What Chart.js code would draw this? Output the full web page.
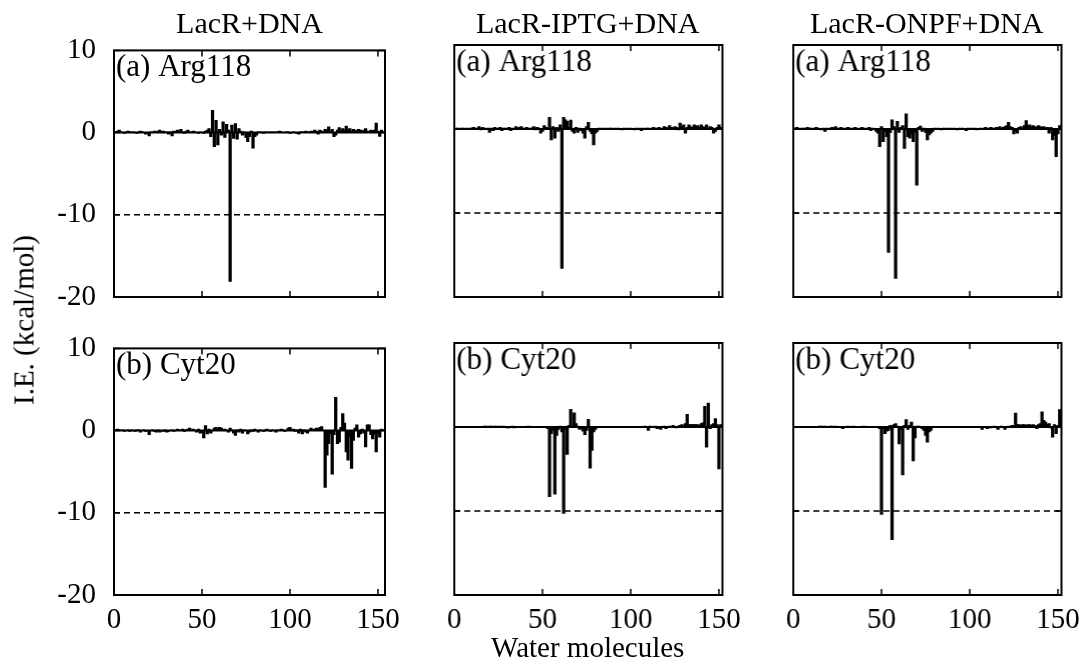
<!DOCTYPE html>
<html><head><meta charset="utf-8">
<script src="https://cdn.jsdelivr.net/npm/chart.js@4.4.0/dist/chart.umd.min.js"></script>
<style>
body{margin:0;background:#fff;width:1086px;height:669px;overflow:hidden;position:relative;font-family:"Liberation Serif","Times New Roman",serif;}
.box{position:absolute;}
.txt{position:absolute;font-size:29px;color:#000;white-space:nowrap;line-height:1;}
</style></head><body>
<script>
// ---------------- DATA ----------------
const columnTitles = ["LacR+DNA", "LacR-IPTG+DNA", "LacR-ONPF+DNA"];
const rowLabels = ["(a) Arg118", "(b) Cyt20"];
const xTicks = [0, 50, 100, 150];
const yTicks = [-20, -10, 0, 10];
const xMaxes = [154, 152, 152];
const cutoff = -10;

// I.E. per water molecule (molecule 1..N)
const argLacR = [
 0.1,0.2,0.3,0.1,0.0,-0.1,0.1,0.2,0.1,0.0,
 0.1,0.0,-0.1,0.1,0.2,0.1,0.0,-0.2,-0.1,-0.4,
 0.1,0.0,0.2,0.1,0.2,0.3,0.1,0.2,0.0,0.1,
 -0.2,0.1,-0.4,0.2,0.1,0.3,0.0,0.4,0.1,-0.1,
 0.2,0.3,0.1,0.0,0.2,0.1,0.0,-0.1,0.1,0.0,
 -0.1,0.2,0.3,0.5,-0.5,2.7,-1.7,1.5,-1.5,0.4,
 -0.3,1.3,-0.6,1.0,0.3,-18.1,0.9,-0.7,1.1,-0.8,
 0.5,0.2,-0.3,0.1,-0.6,-1.1,-0.5,0.2,-1.9,-0.5,
 -0.3,0.1,0.0,0.1,-0.1,0.1,0.0,0.1,0.0,0.1,
 0.0,0.1,0.0,0.2,0.1,0.0,0.0,0.1,0.1,-0.1,
 0.0,0.1,0.0,-0.1,-0.2,0.1,0.1,0.0,0.2,0.1,
 0.0,0.2,0.1,0.3,0.2,-0.2,0.3,0.2,0.1,0.4,
 0.3,0.7,0.2,0.4,-0.5,-0.3,0.3,0.6,0.2,0.5,
 0.3,0.8,0.3,0.5,0.2,0.4,0.3,0.2,0.4,0.3,
 0.2,0.3,0.5,0.2,0.1,0.3,0.2,0.3,1.15,0.2,
 -0.45,0.3,0.1];
const argIPTG = [
 0.1,0.1,0.0,0.1,0.1,0.0,0.1,0.0,0.1,0.1,
 0.2,0.1,0.0,0.3,-0.1,0.2,0.1,0.0,0.1,-0.4,
 0.1,-0.2,0.2,0.0,0.1,0.2,-0.2,0.1,0.1,0.0,
 0.2,-0.2,0.1,0.0,0.3,0.1,0.2,0.3,0.1,0.0,
 0.2,0.0,0.1,0.1,0.3,-0.1,0.2,0.1,-0.5,-0.3,
 0.4,0.2,0.0,1.4,-1.3,0.3,-1.1,0.2,-0.3,0.5,
 -16.6,1.4,1.1,0.9,0.2,1.05,-0.3,-0.5,0.2,-0.4,
 0.1,-0.2,-0.5,-1.1,0.3,0.8,-0.3,-0.6,-1.9,-0.5,
 -0.3,0.1,0.0,0.1,0.0,0.1,0.0,0.1,0.1,0.0,
 0.1,0.0,0.1,0.0,-0.1,0.1,0.0,0.1,0.0,0.1,
 0.0,-0.1,0.1,0.0,0.1,-0.2,0.1,0.0,0.1,0.1,
 0.0,0.1,0.2,0.0,0.1,0.2,0.1,0.0,0.3,0.2,
 0.1,0.4,0.2,0.1,0.3,0.2,-0.1,0.7,0.3,0.5,
 -0.5,0.2,0.5,0.3,0.2,0.5,0.3,0.4,0.2,0.5,
 0.3,0.2,0.5,0.1,0.3,0.2,-0.5,-0.3,0.2,0.5,
 0.2];
const argONPF = [
 0.1,0.2,0.1,0.0,0.1,0.1,0.0,0.2,0.1,0.1,
 0.0,0.1,0.2,0.1,0.0,-0.1,0.1,-0.3,0.1,0.0,
 0.1,0.2,0.1,0.3,0.1,0.0,0.2,0.1,0.0,0.1,
 0.2,0.1,0.0,0.1,0.2,0.1,0.0,0.1,0.2,0.1,
 0.0,0.1,0.2,-0.2,0.1,0.0,-0.3,-0.5,-2.1,0.3,
 -1.5,-0.3,-0.9,-14.7,-0.4,1.1,0.3,-17.8,0.9,-0.4,
 0.2,0.4,-2.3,1.8,-0.9,-1.1,-0.6,-1.5,-0.4,-6.7,
 0.2,0.35,-0.3,0.1,-0.4,-1.3,-0.7,-0.5,-0.3,0.1,
 0.0,0.1,0.0,-0.1,0.1,0.0,0.1,0.0,0.1,0.0,
 0.1,0.0,-0.1,0.1,0.0,0.1,0.0,-0.2,0.1,0.0,
 0.1,0.0,0.1,-0.1,0.0,0.1,0.0,0.1,0.2,0.0,
 0.1,0.2,0.1,0.0,0.2,0.1,0.3,0.1,0.2,0.3,
 0.4,0.8,0.3,0.2,-0.6,-0.3,-0.5,0.2,0.3,0.1,
 0.4,1.0,0.3,0.5,0.3,0.4,0.2,0.3,0.4,0.3,
 0.2,0.3,0.1,0.2,-0.5,0.2,-1.3,-0.8,-3.3,-0.6,
 0.4];
const cytLacR = [
 0.1,0.2,0.1,0.0,0.1,-0.1,0.0,0.1,-0.1,0.1,
 0.0,-0.1,0.1,0.1,-0.2,0.0,0.1,-0.1,0.0,-0.5,
 0.0,0.1,-0.1,-0.2,0.1,-0.2,0.0,-0.1,0.1,-0.2,
 -0.1,0.0,0.1,-0.1,0.0,0.2,0.1,0.0,0.2,-0.1,
 0.1,0.2,0.3,0.1,0.2,0.0,-0.2,0.2,-0.3,-0.2,
 -0.9,0.6,-0.4,0.2,-0.3,0.0,0.3,0.4,0.2,0.4,
 0.3,0.1,0.2,0.0,-0.2,0.3,0.1,-0.3,-0.6,0.1,
 -0.2,0.2,-0.3,0.1,0.0,-0.4,-0.2,0.1,-0.1,0.2,
 0.0,-0.2,0.1,0.0,-0.1,0.1,0.2,0.0,-0.1,0.1,
 0.0,-0.2,0.1,0.0,0.2,0.1,-0.1,0.0,0.3,0.4,
 0.1,0.2,-0.1,0.1,-0.3,0.2,-0.4,0.1,-0.2,-0.3,
 0.1,0.3,0.1,0.2,0.3,0.1,0.4,0.5,0.0,-6.9,
 -3.0,-1.6,-0.4,-5.3,-0.5,4.05,-1.6,-1.4,0.4,2.06,
 0.9,-2.6,-3.6,-0.8,-4.6,-1.2,0.3,0.7,-0.8,-0.4,
 0.2,-0.3,-2.0,0.7,0.7,-0.5,-1.0,-0.4,-2.6,-0.3,
 -0.8,0.2,0.1];
const cytIPTG = [
 0,0,0,0,0,0,0,0,0,0,
 0,0,0,0,0,0,0.1,0.1,0,0.1,
 0.1,0,0.1,0.1,0,0.1,0,0.1,0,-0.1,
 -0.1,0,0.1,-0.1,0,0,0,0,0,0,
 0,0.1,0,0,0,0,0,0,0,0,
 0,0,-0.2,-8.3,-0.8,-0.4,-8.0,-1.0,-0.3,0.1,
 -0.6,-10.3,-0.3,-3.25,0.2,2.1,0.1,1.7,0.4,0.1,
 -0.3,-0.2,-0.5,-0.9,-0.4,0.9,-4.9,-2.8,-0.6,-0.3,
 0,0,0,0,0,0,0,0,0,0,
 0,0,0,0,0,0,0,0,0,0,
 0,0,0,0,0,0,0,0.1,0,-0.4,
 0.1,0,0,0.1,-0.2,0,-0.3,0,0.1,-0.2,
 0,0.1,0,0.2,0,-0.1,0.1,0.2,0.3,0.1,
 0.4,1.5,0.3,0.3,0.3,0.3,0.3,0.3,0.2,0.4,
 0.5,2.46,-2.4,2.86,-0.2,0.3,0.4,1.0,0.3,-5.0,
 0.3];
const cytONPF = [
 0,0,0,0,0,0,0,0,0,0,
 0,0,0,0,0.1,0.1,0,0.1,0,0,
 0.1,0.1,0,0.1,0,0,0,-0.2,0,0,
 0.1,0,0,0.1,0,0,0,0,0,0.1,
 0,0,0,0,0,0,0,0,-0.2,-10.4,
 -0.2,-0.8,-0.5,-0.4,0.2,-13.4,0.3,0.4,0.1,-2.0,
 -0.3,-5.7,0.2,0.87,-0.3,0.2,0.6,-4.05,-1.3,0.1,
 0.1,0,-0.2,-0.4,-1.0,-1.8,-0.6,-0.4,0,0,
 0,0,0,0,0,0,0,0,0,0,
 0,0,0,0,0,0,0,0,0,0,
 0,0,0,0,0,0,-0.3,0,0,-0.2,
 0,-0.1,0,0.1,0,-0.3,0,0.1,0,-0.3,
 0,0.1,0,0.2,0.1,1.67,0.3,0.3,0.2,0.3,
 0.3,0.2,0.3,0.3,0.2,0.3,0.2,-0.2,0.3,0.4,
 1.8,0.8,0.6,0.3,0.4,-0.1,-1.2,0.3,-0.8,0.2,
 2.06];
const panels = [
  [argLacR, argIPTG, argONPF],
  [cytLacR, cytIPTG, cytONPF]
];

// ---------------- LAYOUT ----------------
const FONT = '"Liberation Serif","Times New Roman",serif';
const FS = 29;
const panelLeft = [114, 454, 793];
const panelTop = [45, 343];
const pxPerUnit = 1.76;
const panelH = 252;
const padL = 110, padT = 30, padR = 40, padB = 50;

const framePlugin = {
  id: 'frame',
  afterDraw(chart, args, opts) {
    const {ctx, chartArea: a, scales} = chart;
    ctx.save();
    ctx.strokeStyle = '#000';
    ctx.lineWidth = 1.5;
    const tl = 6;
    xTicks.forEach(v => {
      const x = scales.x.getPixelForValue(v);
      ctx.beginPath();
      ctx.moveTo(x, a.bottom); ctx.lineTo(x, a.bottom - tl);
      ctx.moveTo(x, a.top); ctx.lineTo(x, a.top + tl);
      ctx.stroke();
    });
    yTicks.forEach(v => {
      const y = scales.y.getPixelForValue(v);
      ctx.beginPath();
      ctx.moveTo(a.left, y); ctx.lineTo(a.left + tl, y);
      ctx.moveTo(a.right, y); ctx.lineTo(a.right - tl, y);
      ctx.stroke();
    });
    ctx.lineWidth = 2;
    ctx.strokeRect(a.left, a.top, a.right - a.left, a.bottom - a.top);
    ctx.fillStyle = '#000';
    ctx.font = '31px ' + FONT;
    ctx.textBaseline = 'alphabetic';
    ctx.textAlign = 'left';
    ctx.fillText(opts.label, a.left + 2, a.top + 26);
    ctx.restore();
  }
};

function addText(txt, css) {
  const d = document.createElement('div');
  d.className = 'txt';
  d.textContent = txt;
  Object.assign(d.style, css);
  document.body.appendChild(d);
  return d;
}

for (let r = 0; r < 2; r++) {
  for (let c = 0; c < 3; c++) {
    const vals = panels[r][c];
    const xMax = xMaxes[c];
    const W = xMax * pxPerUnit;
    const box = document.createElement('div');
    box.className = 'box';
    Object.assign(box.style, {
      left: (panelLeft[c] - padL) + 'px',
      top: (panelTop[r] - padT) + 'px',
      width: (W + padL + padR) + 'px',
      height: (panelH + padT + padB) + 'px'
    });
    const cv = document.createElement('canvas');
    box.appendChild(cv);
    document.body.appendChild(box);

    new Chart(cv, {
      type: 'bar',
      data: {
        datasets: [
          {
            type: 'bar',
            data: vals.map((v, i) => ({x: i + 1, y: v})),
            backgroundColor: '#000',
            borderWidth: 0,
            barThickness: 2.6,
            grouped: false,
            order: 2
          },
          {
            type: 'line',
            data: [{x: 0, y: 0}, {x: xMax, y: 0}],
            borderColor: '#000', borderWidth: 2,
            pointRadius: 0, fill: false, order: 1
          },
          {
            type: 'line',
            data: [{x: 0, y: cutoff}, {x: xMax, y: cutoff}],
            borderColor: '#000', borderWidth: 1.5, borderDash: [6, 4],
            pointRadius: 0, fill: false, order: 1
          }
        ]
      },
      options: {
        responsive: true,
        maintainAspectRatio: false,
        animation: false,
        devicePixelRatio: 1,
        events: [],
        layout: {padding: {left: 0, top: padT, right: padR, bottom: 0}},
        plugins: {
          legend: {display: false},
          tooltip: {enabled: false},
          frame: {label: rowLabels[r]}
        },
        scales: {
          x: {
            type: 'linear', min: 0, max: xMax,
            offset: false,
            grid: {display: false, drawTicks: false, offset: false},
            border: {display: false},
            afterBuildTicks: s => { s.ticks = xTicks.map(v => ({value: v})); },
            afterFit: s => { s.height = padB; },
            ticks: {
              display: r === 1,
              padding: 8,
              maxRotation: 0,
              autoSkip: false,
              color: '#000',
              font: {family: FONT, size: FS},
              callback: v => String(v)
            }
          },
          y: {
            type: 'linear', min: -20, max: 10,
            grid: {display: false, drawTicks: false},
            border: {display: false},
            afterBuildTicks: s => { s.ticks = yTicks.map(v => ({value: v})); },
            afterFit: s => { s.width = padL; },
            ticks: {
              display: c === 0,
              padding: 18,
              color: '#000',
              font: {family: FONT, size: FS},
              callback: v => String(v)
            }
          }
        }
      },
      plugins: [framePlugin]
    });
  }
}

// column titles
for (let c = 0; c < 3; c++) {
  const W = xMaxes[c] * pxPerUnit;
  addText(columnTitles[c], {top: '8px', fontSize: '30px', left: (panelLeft[c] + W / 2) + 'px', transform: 'translateX(-50%)'});
}
addText('Water molecules', {top: '633px', left: (panelLeft[1] + xMaxes[1] * pxPerUnit / 2) + 'px', transform: 'translateX(-50%)'});
addText('I.E. (kcal/mol)', {top: '320px', left: '24px', transform: 'translate(-50%,-50%) rotate(-90deg)'});
</script>
</body></html>
